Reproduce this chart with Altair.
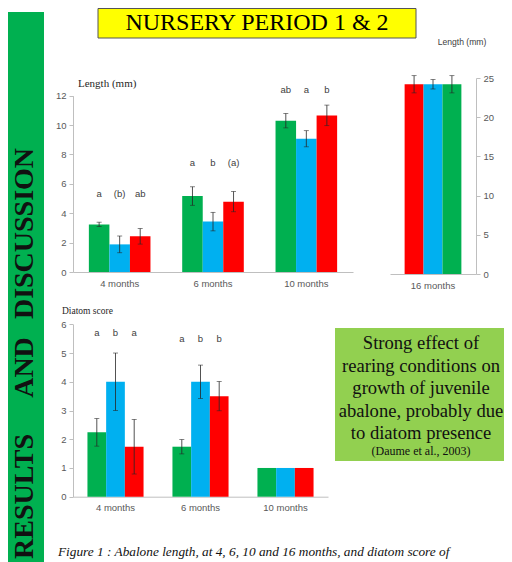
import altair as alt
import pandas as pd

# ---------------- data ----------------
months = ["4 months", "6 months", "10 months"]
treatments = ["T1", "T2", "T3"]
treatment_colors = ["#00B050", "#00B0F0", "#FF0000"]

length_t1 = [3.24, 5.17, 10.30]
length_t2 = [1.88, 3.43, 9.07]
length_t3 = [2.43, 4.79, 10.66]
length_err_t1 = [0.15, 0.63, 0.49]
length_err_t2 = [0.57, 0.63, 0.55]
length_err_t3 = [0.53, 0.69, 0.70]
length_letters_t1 = ["a", "a", "ab"]
length_letters_t2 = ["(b)", "b", "a"]
length_letters_t3 = ["ab", "(a)", "b"]
length_letter_height = [5.3, 7.45, 12.4]

month16 = ["16 months"]
order16 = ["T3", "T2", "T1"]
length16 = [24.2, 24.2, 24.2]
length16_err = [1.1, 0.6, 1.1]

diatom_t1 = [2.24, 1.74, 1.0]
diatom_t2 = [4.0, 4.0, 1.0]
diatom_t3 = [1.74, 3.5, 1.0]
diatom_err_t1 = [0.48, 0.25, 0.0]
diatom_err_t2 = [1.0, 0.58, 0.0]
diatom_err_t3 = [0.95, 0.51, 0.0]
diatom_letters_t1 = ["a", "a", ""]
diatom_letters_t2 = ["b", "b", ""]
diatom_letters_t3 = ["a", "b", ""]
diatom_letter_height = [5.69, 5.5, 0.0]

length_ticks = [0, 2, 4, 6, 8, 10, 12]
length16_ticks = [0, 5, 10, 15, 20, 25]
diatom_ticks = [0, 1, 2, 3, 4, 5, 6]

title_text = "NURSERY PERIOD 1 & 2"
side_words = ["RESULTS", "AND", "DISCUSSION"]
box_lines = ["Strong effect of", "rearing conditions on", "growth of juvenile",
             "abalone, probably due", "to diatom presence"]
box_ref = "(Daume et al., 2003)"
caption_text = "Figure 1 : Abalone length, at 4, 6, 10 and 16 months, and diatom score of"


def frame(month_list, trts, means, errs, letters, heights):
    rows = []
    for t, mv, ev, lv in zip(trts, means, errs, letters):
        for i, mo in enumerate(month_list):
            rows.append(dict(month=mo, trt=t, mean=mv[i], err=ev[i], letter=lv[i], ly=heights[i]))
    return pd.DataFrame(rows)


length_df = frame(months, treatments, [length_t1, length_t2, length_t3],
                  [length_err_t1, length_err_t2, length_err_t3],
                  [length_letters_t1, length_letters_t2, length_letters_t3], length_letter_height)
len16_df = frame(month16, order16, [[v] for v in length16], [[v] for v in length16_err],
                 [[""], [""], [""]], [0.0])
diatom_df = frame(months, treatments, [diatom_t1, diatom_t2, diatom_t3],
                  [diatom_err_t1, diatom_err_t2, diatom_err_t3],
                  [diatom_letters_t1, diatom_letters_t2, diatom_letters_t3], diatom_letter_height)

W, H = 496, 554

AX = dict(domainColor="#BFBFBF", tickColor="#BFBFBF", labelColor="#595959",
          labelFont="Liberation Sans", labelFontSize=9.5, grid=False, title=None,
          labelFlush=False, labelOverlap=False)


def panel(df, month_list, trt_order, xrange, yrange, ydomain, yticks, x_off, y_off, y_orient):
    xs = alt.Scale(domain=month_list, range=xrange, paddingInner=0.34, paddingOuter=0.17)
    ys = alt.Scale(domain=ydomain, range=yrange, nice=False)
    xo = alt.XOffset("trt:N", scale=alt.Scale(domain=trt_order, paddingInner=0, paddingOuter=0))
    color = alt.Color("trt:N", scale=alt.Scale(domain=treatments, range=treatment_colors), legend=None)
    x_axis = alt.Axis(orient="bottom", offset=x_off, labelAngle=0, ticks=False, labelPadding=6, **AX)
    y_axis = alt.Axis(orient=y_orient, offset=y_off, values=yticks, tickSize=4, labelPadding=3, **AX)
    xe = alt.X("month:N", scale=xs, axis=x_axis)
    bars = alt.Chart(df).mark_bar().encode(
        x=xe, xOffset=xo, y=alt.Y("mean:Q", scale=ys, axis=y_axis), color=color)
    base = alt.Chart(df).transform_filter("datum.err > 0").transform_calculate(
        lo="datum.mean - datum.err", hi="datum.mean + datum.err")
    rule = base.mark_rule(color="#262626", strokeWidth=0.8).encode(
        x=xe, xOffset=xo, y=alt.Y("lo:Q", scale=ys, axis=y_axis), y2="hi:Q")
    cap_lo = base.mark_tick(orient="horizontal", size=5, thickness=0.8, color="#262626").encode(
        x=xe, xOffset=xo, y=alt.Y("lo:Q", scale=ys, axis=y_axis))
    cap_hi = base.mark_tick(orient="horizontal", size=5, thickness=0.8, color="#262626").encode(
        x=xe, xOffset=xo, y=alt.Y("hi:Q", scale=ys, axis=y_axis))
    letters = alt.Chart(df).transform_filter("datum.letter != ''").mark_text(
        font="Liberation Sans", fontSize=9.5, color="#404040", baseline="middle").encode(
        x=xe, xOffset=xo, y=alt.Y("ly:Q", scale=ys, axis=y_axis), text="letter:N")
    return alt.layer(bars, rule, cap_lo, cap_hi, letters)


top_panel = panel(length_df, months, treatments, [65, 345], [264, 87.7], [0, 12], length_ticks,
                  264 - H, -65, "left")
p16_panel = panel(len16_df, month16, order16, [382, 468], [266, 70], [0, 25], length16_ticks,
                  266 - H, 468 - W, "right")
diatom_panel = panel(diatom_df, months, treatments, [65, 320], [488.7, 316.3], [0, 6], diatom_ticks,
                     488.7 - H, -65, "left")

one = pd.DataFrame({"k": [0]})

strip = alt.Chart(one).mark_rect(color="#00B050").encode(
    x=alt.value(0), x2=alt.value(36), y=alt.value(4), y2=alt.value(H))
side_layers = []
for word, yc in zip(side_words, [488.5, 359.5, 225.5]):
    side_layers.append(alt.Chart(one).mark_text(
        text=word, angle=270, font="Liberation Serif", fontSize=28, fontWeight="bold",
        color="#111111", align="center", baseline="middle").encode(x=alt.value(16.5), y=alt.value(yc)))

title_box = alt.Chart(one).mark_rect(fill="#FFFF00", stroke="#555555", strokeWidth=1).encode(
    x=alt.value(90), x2=alt.value(408), y=alt.value(0.5), y2=alt.value(30))
title = alt.Chart(one).mark_text(text=title_text, font="Liberation Serif", fontSize=24,
                                 color="#000000", align="center", baseline="middle").encode(
    x=alt.value(249), y=alt.value(15))

len_title = alt.Chart(one).mark_text(text="Length (mm)", font="Liberation Serif", fontSize=11,
                                     color="#262626", align="left", baseline="middle").encode(
    x=alt.value(70), y=alt.value(76))
len16_title = alt.Chart(one).mark_text(text="Length (mm)", font="Liberation Sans", fontSize=8.6,
                                       color="#404040", align="center", baseline="middle").encode(
    x=alt.value(454), y=alt.value(34))
diatom_title = alt.Chart(one).mark_text(text="Diatom score", font="Liberation Serif", fontSize=9.5,
                                        color="#262626", align="left", baseline="middle").encode(
    x=alt.value(54), y=alt.value(303))

box = alt.Chart(one).mark_rect(fill="#92D050").encode(
    x=alt.value(327), x2=alt.value(W), y=alt.value(320), y2=alt.value(453))
box_text = alt.Chart(one).mark_text(text=box_lines, font="Liberation Serif", fontSize=18.6,
                                    lineHeight=22.5, color="#111111", align="center",
                                    baseline="middle").encode(x=alt.value(413), y=alt.value(335.3))
box_ref_text = alt.Chart(one).mark_text(text=box_ref, font="Liberation Serif", fontSize=12,
                                        color="#111111", align="center", baseline="middle").encode(
    x=alt.value(413), y=alt.value(443.3))

caption = alt.Chart(one).mark_text(text=caption_text, font="Liberation Serif", fontSize=13.3,
                                   fontStyle="italic", color="#111111", align="left",
                                   baseline="middle").encode(x=alt.value(50), y=alt.value(544))

chart = alt.layer(
    strip, *side_layers, title_box, title, len_title, len16_title, diatom_title,
    box, box_text, box_ref_text, caption,
    top_panel, p16_panel, diatom_panel,
).resolve_scale(x="independent", y="independent", xOffset="independent").properties(
    width=W, height=H, padding=0, autosize=alt.AutoSizeParams(type="none")
).configure_view(stroke=None)

chart.save("out.html", embed_options={"renderer": "svg", "actions": False})
